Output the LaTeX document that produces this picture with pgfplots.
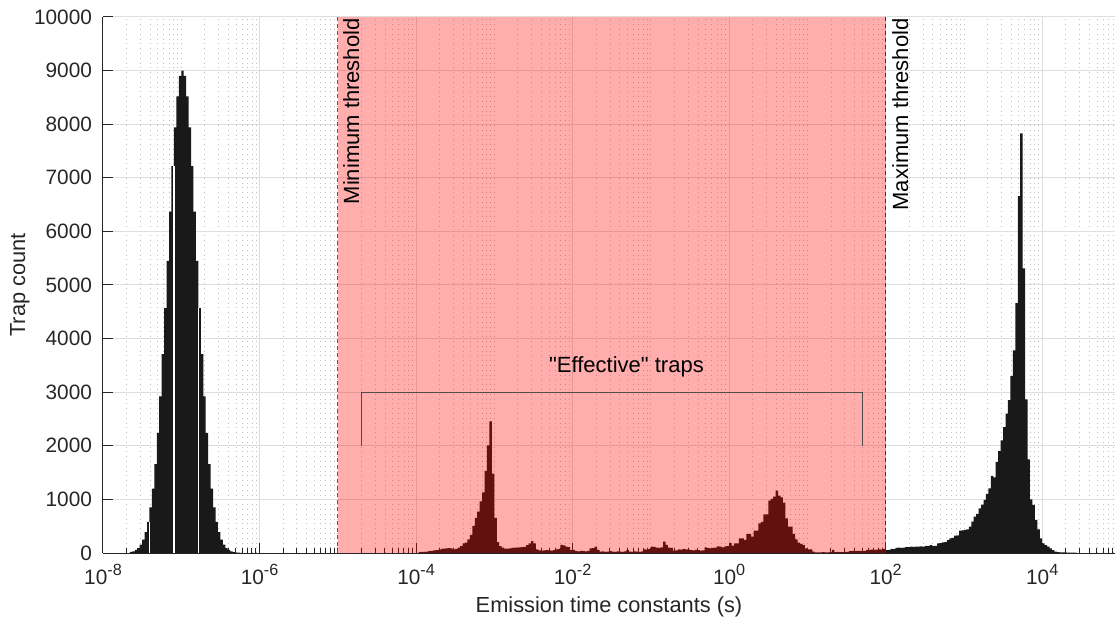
\documentclass[border=0pt]{standalone}
\usepackage{pgfplots}
\usepackage{pgfplotstable}
\pgfplotsset{compat=1.18}
\usepackage{fontspec}
\setmainfont{Liberation Sans}[Ligatures=TeXOff]
\newcommand{\tl}[1]{10\raisebox{0.45em}{\fontsize{8.1}{9}\selectfont #1}}

\pgfplotstableread{
k y
11 20
12 30
13 60
14 90
15 155
16 250
17 390
18 580
19 850
20 1200
21 1660
22 2240
23 2920
24 3710
25 4570
26 5450
27 6370
28 7220
29 7940
30 8520
31 8900
32 9000
33 8900
34 8520
35 7940
36 7220
37 6370
38 5450
39 4570
40 3710
41 2920
42 2240
43 1660
44 1200
45 850
46 580
47 390
48 250
49 155
50 90
51 60
52 30
53 15
54 8
55 5
56 4
57 0
}\lefttab

\pgfplotstableread{
k y
129 15
130 20
131 20
132 25
133 35
134 40
135 50
136 55
137 60
138 75
139 80
140 85
141 90
142 85
143 70
144 75
145 100
146 130
147 180
148 195
149 255
150 340
151 505
152 655
153 770
154 965
155 1130
156 1530
157 2010
158 2455
159 1480
160 655
161 205
162 130
163 100
164 80
165 80
166 85
167 95
168 100
169 100
170 105
171 110
172 115
173 145
174 180
175 220
176 180
177 70
178 50
179 45
180 50
181 55
182 50
183 45
184 55
185 70
186 75
187 150
188 140
189 120
190 110
191 55
192 60
193 35
194 30
195 40
196 35
197 30
198 40
199 85
200 90
201 120
202 60
203 25
204 30
205 20
206 25
207 35
208 25
209 20
210 30
211 25
212 20
213 30
214 55
215 25
216 20
217 30
218 25
219 20
220 30
221 70
222 65
223 75
224 120
225 115
226 100
227 95
228 105
229 210
230 150
231 100
232 95
233 45
234 50
235 70
236 65
237 75
238 70
239 65
240 55
241 50
242 60
243 55
244 45
245 50
246 105
247 90
248 85
249 95
250 100
251 125
252 120
253 105
254 125
255 130
256 187
257 137
258 180
259 180
260 274
261 274
262 243
263 355
264 355
265 305
266 417
267 417
268 554
269 579
270 722
271 722
272 977
273 1008
274 1052
275 1164
276 1070
277 1039
278 940
279 648
280 492
281 492
282 355
283 255
284 193
285 168
286 149
287 87
288 68
289 68
290 25
291 12
292 10
293 12
294 15
295 10
296 12
297 15
298 60
299 18
300 20
301 15
302 18
303 22
304 20
305 35
306 40
307 35
308 38
309 42
310 35
311 40
312 55
313 60
314 65
315 58
316 62
317 70
318 65
319 75
320 56
321 60
322 75
323 72
324 95
325 100
326 98
327 102
328 112
329 110
330 118
331 115
332 120
333 118
334 122
335 118
336 131
337 128
338 149
339 131
340 135
341 180
342 185
343 199
344 205
345 242
346 274
347 280
348 324
349 330
350 417
351 420
352 430
353 440
354 492
355 585
356 678
357 728
358 834
359 902
360 989
361 1101
362 1207
363 1437
364 1412
365 1700
366 1900
367 2100
368 2350
369 2600
370 2850
371 3300
372 3780
373 4660
374 6660
375 7830
376 5310
377 2867
378 1748
379 1002
380 896
381 616
382 441
383 274
384 180
385 149
386 118
387 87
388 56
389 25
390 15
391 12
392 10
393 10
394 8
395 8
396 6
397 5
398 0
}\righttab

\begin{document}
\begin{tikzpicture}
\begin{axis}[
  name=ax,
  scale only axis,
  width=506pt, height=268pt,
  xmode=log,
  xmin=1e-8, xmax=85114,
  ymin=0, ymax=10000,
  scaled y ticks=false,
  axis x line*=bottom, axis y line*=left,
  axis line style={black!85, line width=0.5pt},
  tick align=inside,
  major tick length=5pt, minor tick length=2.5pt,
  tick style={black!85, line width=0.5pt},
  xtick={1e-8,1e-6,1e-4,1e-2,1,1e2,1e4},
  xticklabels={\tl{-8},\tl{-6},\tl{-4},\tl{-2},\tl{0},\tl{2},\tl{4}},
  minor xtick={2e-8,3e-8,4e-8,5e-8,6e-8,7e-8,8e-8,9e-8,
    1e-7,2e-7,3e-7,4e-7,5e-7,6e-7,7e-7,8e-7,9e-7,
    2e-6,3e-6,4e-6,5e-6,6e-6,7e-6,8e-6,9e-6,
    1e-5,2e-5,3e-5,4e-5,5e-5,6e-5,7e-5,8e-5,9e-5,
    2e-4,3e-4,4e-4,5e-4,6e-4,7e-4,8e-4,9e-4,
    1e-3,2e-3,3e-3,4e-3,5e-3,6e-3,7e-3,8e-3,9e-3,
    2e-2,3e-2,4e-2,5e-2,6e-2,7e-2,8e-2,9e-2,
    0.1,0.2,0.3,0.4,0.5,0.6,0.7,0.8,0.9,
    2,3,4,5,6,7,8,9,
    10,20,30,40,50,60,70,80,90,
    200,300,400,500,600,700,800,900,
    1000,2000,3000,4000,5000,6000,7000,8000,9000,
    20000,30000,40000,50000,60000,70000,80000},
  ytick={0,1000,2000,3000,4000,5000,6000,7000,8000,9000,10000},
  yticklabels={0,1000,2000,3000,4000,5000,6000,7000,8000,9000,10000},
  xmajorgrids, xminorgrids, ymajorgrids,
  major grid style={draw=black!13, line width=0.5pt},
  minor grid style={draw=black!25, line width=0.4pt, dotted},
  ticklabel style={font=\fontsize{10.4}{12}\selectfont, text=black!85},
  xticklabel style={yshift=-2pt},
  yticklabel style={xshift=-2pt},
  xlabel={Emission time constants (s)},
  ylabel={Trap count},
  label style={font=\fontsize{10.9}{13}\selectfont, text=black!85},
  xlabel style={at={(axis description cs:0.5,-0.1)}, anchor=center},
  ylabel style={at={(axis description cs:-0.082,0.5)}, anchor=center},
]
% histograms
\addplot[const plot mark left, fill=black!90, draw=none]
  table[x expr={10^(\thisrow{k}/32-8)}, y=y] {\lefttab} \closedcycle;
\addplot[const plot mark left, fill=black!90, draw=none]
  table[x expr={10^(\thisrow{k}/32-8)}, y=y] {\righttab} \closedcycle;
% rendering seams in the left peak
\addplot[white, line width=0.7pt] coordinates {(3.9244e-8,0) (3.9244e-8,580)};
\addplot[white, line width=0.7pt] coordinates {(8.0584e-8,0) (8.0584e-8,7220)};
\addplot[white, line width=0.7pt] coordinates {(1.6548e-7,0) (1.6548e-7,4570)};
% threshold window
\addplot[draw=none, fill=red, fill opacity=0.32] coordinates {(1e-5,10000) (100,10000)} \closedcycle;
\addplot[black!65, line width=0.5pt, dash pattern=on 2pt off 1.5pt] coordinates {(1e-5,0) (1e-5,10000)};
\addplot[black!80, line width=0.5pt, dash pattern=on 2pt off 1.5pt] coordinates {(100,0) (100,10000)};
% bracket
\addplot[black!70, line width=0.5pt] coordinates {(2e-5,2000) (2e-5,3000) (50,3000) (50,2000)};
\node[font=\fontsize{11}{13}\selectfont, text=black] at (axis cs:0.0488,3470) {"Effective" traps};
\node[rotate=90, anchor=north east, inner sep=0pt, font=\fontsize{11}{13}\selectfont, text=black]
  at ([xshift=2.5pt,yshift=-0.5pt]axis cs:1e-5,10000) {Minimum threshold};
\node[rotate=90, anchor=north east, inner sep=0pt, font=\fontsize{11}{13}\selectfont, text=black]
  at ([xshift=3pt,yshift=-0.5pt]axis cs:100,10000) {Maximum threshold};
\end{axis}
\pgfresetboundingbox
\path ([shift={(-51.5pt,-33.5pt)}]ax.south west) rectangle ([shift={(0.5pt,8.5pt)}]ax.north east);
\end{tikzpicture}
\end{document}
